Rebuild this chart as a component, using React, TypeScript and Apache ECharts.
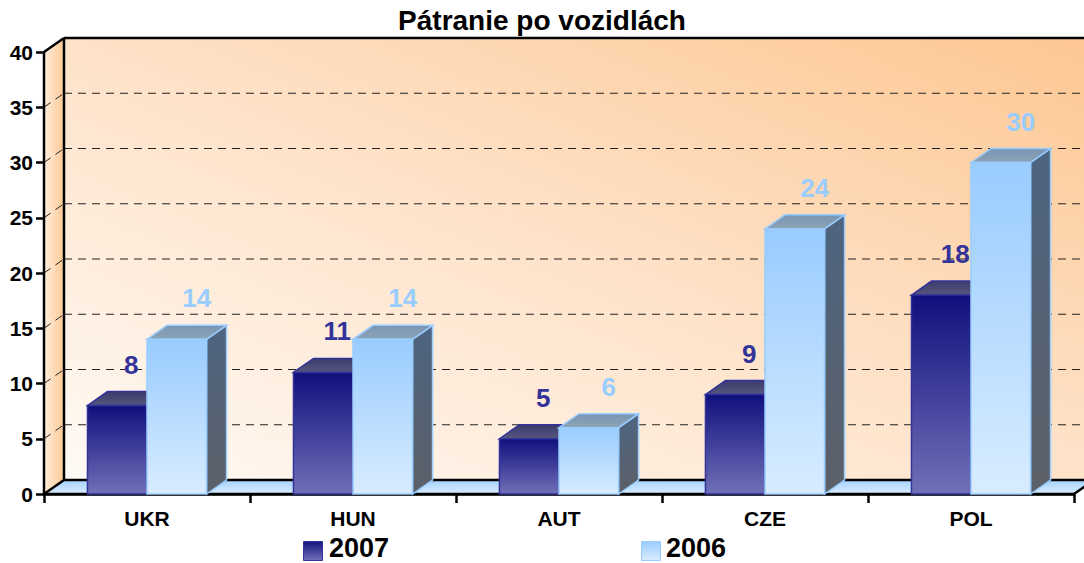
import React, { useEffect, useRef } from "react";
import * as echarts from "echarts";

const TITLE = "Pátranie po vozidlách";
const CATEGORIES = ["UKR", "HUN", "AUT", "CZE", "POL"];
const SERIES_NAMES = ["2007", "2006"];
const VALUES_2007 = [8, 11, 5, 9, 18];
const VALUES_2006 = [14, 14, 6, 24, 30];
const Y_MIN = 0;
const Y_MAX = 40;
const Y_STEP = 5;
const GRID_VALUES = [5, 10, 15, 20, 25, 30, 35];

const DX = 20;
const DY = -14;
const BAR_RATIO = 0.289;
const FONT = '"Liberation Sans", Arial, sans-serif';

const vGrad = (a: string, b: string) =>
  new echarts.graphic.LinearGradient(0, 0, 0, 1, [
    { offset: 0, color: a },
    { offset: 1, color: b },
  ]);

function makeBarRender(
  offset: number,
  faceTop: string,
  faceBottom: string,
  border: string,
  topFill: any,
  sideFill: any,
  labelColor: string,
  labelShift: number
) {
  return (params: any, api: any) => {
    const cat = api.value(0);
    const val = api.value(1);
    const base = api.coord([cat, 0]);
    const top = api.coord([cat, val]);
    const band = api.size([1, 0])[0];
    const w = band * BAR_RATIO;
    const x0 = base[0] + offset * w;
    const yb = base[1];
    const yt = top[1];
    return {
      type: "group",
      children: [
        {
          type: "polygon",
          shape: { points: [[x0 + w, yt], [x0 + w + DX, yt + DY], [x0 + w + DX, yb + DY], [x0 + w, yb]] },
          style: { fill: sideFill, stroke: border, lineWidth: 1.5 },
        },
        {
          type: "polygon",
          shape: { points: [[x0, yt], [x0 + DX, yt + DY], [x0 + w + DX, yt + DY], [x0 + w, yt]] },
          style: { fill: topFill, stroke: border, lineWidth: 1.5 },
        },
        {
          type: "rect",
          shape: { x: x0, y: yt, width: w, height: yb - yt },
          style: { fill: vGrad(faceTop, faceBottom), stroke: border, lineWidth: 1.5 },
        },
        {
          type: "text",
          x: x0 + w / 2 + labelShift,
          y: yt + DY - 27,
          style: {
            text: String(val),
            fill: labelColor,
            font: `bold 26px ${FONT}`,
            align: "center",
            verticalAlign: "middle",
          },
        },
      ],
    };
  };
}

function wallsRender(params: any, api: any) {
  const cs = params.coordSys;
  const L = cs.x;
  const R = cs.x + cs.width;
  const T = cs.y;
  const B = cs.y + cs.height;
  const black = { stroke: "#000", lineWidth: 2.5 };
  const children: any[] = [];
  children.push({
    type: "rect",
    shape: { x: L + DX, y: T + DY, width: cs.width + 40, height: cs.height },
    style: {
      fill: new echarts.graphic.LinearGradient(0, 1, 1, 0, [
        { offset: 0, color: "#fffaf5" },
        { offset: 0.5, color: "#fee2c8" },
        { offset: 1, color: "#fdc690" },
      ]),
    },
  });
  children.push({
    type: "polygon",
    shape: { points: [[L, T], [L + DX, T + DY], [L + DX, B + DY], [L, B]] },
    style: {
      fill: new echarts.graphic.LinearGradient(0, 0, 1, 0, [
        { offset: 0, color: "#ffeedd" },
        { offset: 1, color: "#fcc894" },
      ]),
    },
  });
  children.push({
    type: "polygon",
    shape: { points: [[L, B], [L + DX, B + DY], [R + DX, B + DY], [R, B]] },
    style: { fill: vGrad("#a6d3ff", "#d8ecff") },
  });
  GRID_VALUES.forEach((v) => {
    const y = api.coord([0, v])[1];
    const dash = { stroke: "#222", lineWidth: 1, lineDash: [8, 6] };
    children.push({ type: "line", shape: { x1: L, y1: y, x2: L + DX, y2: y + DY }, style: dash });
    children.push({ type: "line", shape: { x1: L + DX, y1: y + DY, x2: R + DX + 40, y2: y + DY }, style: dash });
  });
  const lines = [
    [L + DX, T + DY, R + DX + 40, T + DY],
    [L + DX, T + DY, L + DX, B + DY],
    [L + DX, B + DY, R + DX, B + DY],
    [L, T, L + DX, T + DY],
    [L, B, L + DX, B + DY],
    [L, T, L, B],
    [L, B, R, B],
    [R, B, R + DX, B + DY],
  ];
  lines.forEach(([x1, y1, x2, y2]) =>
    children.push({ type: "line", shape: { x1, y1, x2, y2 }, style: black })
  );
  return { type: "group", children };
}

export default function App() {
  const ref = useRef<HTMLDivElement>(null);
  useEffect(() => {
    if (!ref.current) return;
    const chart = echarts.init(ref.current, undefined, { renderer: "svg" });
    const legend2007 = vGrad("#14147f", "#7070b8");
    const legend2006 = vGrad("#99ccff", "#d8ecff");
    const legendFont = `bold 27px ${FONT}`;
    chart.setOption({
      animation: false,
      backgroundColor: "#fff",
      title: {
        text: TITLE,
        left: "center",
        top: 6,
        padding: 0,
        textStyle: { fontFamily: FONT, fontWeight: "bold", fontSize: 28, color: "#000" },
      },
      graphic: [
        {
          type: "rect",
          left: 303,
          top: 541,
          shape: { width: 19, height: 19 },
          style: { fill: legend2007, stroke: "#333399", lineWidth: 1 },
        },
        {
          type: "text",
          x: 329,
          y: 548,
          style: { text: SERIES_NAMES[0], font: legendFont, fill: "#000", verticalAlign: "middle" },
        },
        {
          type: "rect",
          left: 641,
          top: 541,
          shape: { width: 19, height: 19 },
          style: { fill: legend2006, stroke: "#99ccff", lineWidth: 1 },
        },
        {
          type: "text",
          x: 666,
          y: 548,
          style: { text: SERIES_NAMES[1], font: legendFont, fill: "#000", verticalAlign: "middle" },
        },
      ],
      grid: { left: 44, right: 10, top: 52, bottom: 69 },
      xAxis: {
        type: "category",
        data: CATEGORIES,
        boundaryGap: true,
        axisLine: { show: true, lineStyle: { color: "#000", width: 2.5 } },
        axisTick: { show: true, length: 9, lineStyle: { color: "#000", width: 2.5 } },
        axisLabel: { fontFamily: FONT, fontWeight: "bold", fontSize: 21, color: "#000", margin: 14 },
        splitLine: { show: false },
      },
      yAxis: {
        type: "value",
        min: Y_MIN,
        max: Y_MAX,
        interval: Y_STEP,
        axisLine: { show: true, lineStyle: { color: "#000", width: 2.5 } },
        axisTick: { show: true, length: 8, lineStyle: { color: "#000", width: 2.5 } },
        axisLabel: { fontFamily: FONT, fontWeight: "bold", fontSize: 21, color: "#000", margin: 11 },
        splitLine: { show: false },
      },
      series: [
        {
          name: "walls",
          type: "custom",
          renderItem: wallsRender,
          data: [[0, 0]],
          encode: { x: 0, y: 1 },
          silent: true,
          z: 1,
        },
        {
          name: SERIES_NAMES[0],
          type: "custom",
          itemStyle: { color: legend2007 },
          renderItem: makeBarRender(-1, "#10107e", "#7070b8", "#333399", vGrad("#3c3c6e", "#56567e"), "#3c3c6e", "#333399", 14),
          data: VALUES_2007.map((v, i) => [i, v]),
          encode: { x: 0, y: 1 },
          z: 2,
        },
        {
          name: SERIES_NAMES[1],
          type: "custom",
          itemStyle: { color: legend2006 },
          renderItem: makeBarRender(0, "#99ccff", "#d8ecff", "#99ccff", vGrad("#7896b4", "#8ea3b6"), vGrad("#4d6480", "#5c6068"), "#99ccff", 20),
          data: VALUES_2006.map((v, i) => [i, v]),
          encode: { x: 0, y: 1 },
          z: 3,
        },
      ],
    });
    return () => chart.dispose();
  }, []);
  return (
    <div
      ref={ref}
      style={{ position: "fixed", left: 0, top: 0, width: 1084, height: 563, background: "#fff" }}
    />
  );
}
